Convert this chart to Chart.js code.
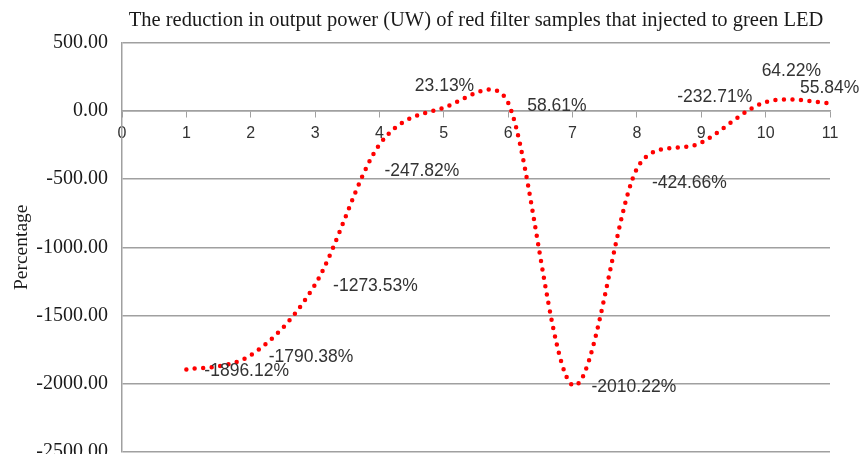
<!DOCTYPE html>
<html>
<head>
<meta charset="utf-8">
<script src="https://cdn.jsdelivr.net/npm/chart.js@4.4.1/dist/chart.umd.min.js"></script>
<style>
  body { margin: 0; background: #fff; }
</style>
</head>
<body>
<canvas id="chart" width="861" height="454"></canvas>
<script>
const sampleNumbers = [1, 2, 3, 4, 5, 6, 7, 8, 9, 10, 11];
const reductionValues = [-1896.12, -1790.38, -1273.53, -247.82, 23.13, 58.61, -2010.22, -424.66, -232.71, 64.22, 55.84];
const yTicks = [-2500, -2000, -1500, -1000, -500, 0, 500];
const xTicks = [0, 1, 2, 3, 4, 5, 6, 7, 8, 9, 10, 11];

// where each value label sits, relative to its point (left edge, vertical middle)
const labelOffsets = [[18, 2], [18, 2], [18, 2], [5, 27], [-29, -22], [19, 3], [19, 2], [15, 14], [-24, -45], [-4, -31], [-30, -15]];

// excel-like smoothing: tangent = (next - prev) / 6, capped at half of each neighbouring segment
const excelSmooth = {
    id: "excelSmooth",
    beforeDatasetsDraw(chart) {
        const meta = chart.getDatasetMeta(0);
        meta.dataset.updateControlPoints(chart.chartArea);
        const pts = meta.data;
        const dist = (a, b) => Math.hypot(b.x - a.x, b.y - a.y);
        pts.forEach((p, i) => {
            const prev = pts[Math.max(i - 1, 0)];
            const next = pts[Math.min(i + 1, pts.length - 1)];
            const vx = (next.x - prev.x) / 6;
            const vy = (next.y - prev.y) / 6;
            const len = Math.hypot(vx, vy) || 1;
            const k1 = Math.min(1, dist(prev, p) / 2 / len);
            const k2 = Math.min(1, dist(p, next) / 2 / len);
            p.cp1x = p.x - vx * k1;
            p.cp1y = p.y - vy * k1;
            p.cp2x = p.x + vx * k2;
            p.cp2y = p.y + vy * k2;
        });
    }
};

const valueLabels = {
    id: "valueLabels",
    afterDatasetsDraw(chart) {
        const ctx = chart.ctx;
        const meta = chart.getDatasetMeta(0);
        ctx.save();
        ctx.font = "17.5px 'Liberation Sans', Arial, sans-serif";
        ctx.fillStyle = "#333";
        ctx.textAlign = "left";
        ctx.textBaseline = "middle";
        meta.data.forEach((pt, i) => {
            const [dx, dy] = labelOffsets[i];
            ctx.fillText(reductionValues[i].toFixed(2) + "%", pt.x + dx, pt.y + dy);
        });
        ctx.restore();
    }
};

new Chart(document.getElementById("chart"), {
    type: "line",
    data: {
        datasets: [{
            data: sampleNumbers.map((x, i) => ({ x: x, y: reductionValues[i] })),
            borderColor: "#ff0000",
            borderWidth: 4.5,
            borderDash: [0, 8.5],
            borderCapStyle: "round",
            tension: 0.4,
            pointRadius: 0,
            fill: false
        }]
    },
    options: {
        responsive: false,
        animation: false,
        layout: { padding: { left: 0, right: 31, top: 0, bottom: 2 } },
        plugins: {
            legend: { display: false },
            tooltip: { enabled: false },
            title: {
                display: true,
                fullSize: false,
                text: "The reduction in output power (UW) of red filter samples that injected to green LED",
                color: "#1a1a1a",
                font: { family: "'Liberation Serif', 'Times New Roman', serif", size: 20.5, weight: "normal" },
                padding: { top: 8, bottom: 10 }
            }
        },
        scales: {
            x: {
                type: "linear",
                position: { y: 0 },
                min: 0,
                max: 11,
                afterFit: scale => { scale.height = 0; },
                afterBuildTicks: scale => { scale.ticks = xTicks.map(v => ({ value: v })); },
                grid: { drawOnChartArea: false, drawTicks: true, tickLength: 6, color: "#a0a0a0" },
                border: { color: "#a0a0a0", width: 1.5 },
                ticks: {
                    color: "#333",
                    padding: 7,
                    maxRotation: 0,
                    font: { family: "'Liberation Sans', Arial, sans-serif", size: 16 }
                }
            },
            y: {
                min: -2500,
                max: 500,
                afterFit: scale => {
                    scale.width = 122;
                    scale.paddingTop = 0;
                    scale.paddingBottom = 0;
                },
                afterBuildTicks: scale => { scale.ticks = yTicks.map(v => ({ value: v })); },
                grid: { color: "#a0a0a0", lineWidth: 1.5, drawTicks: false },
                border: { color: "#a0a0a0", width: 1.5 },
                ticks: {
                    color: "#1a1a1a",
                    padding: 14,
                    font: { family: "'Liberation Serif', 'Times New Roman', serif", size: 20 },
                    callback: v => v.toFixed(2)
                },
                title: {
                    display: true,
                    text: "Percentage",
                    color: "#1a1a1a",
                    font: { family: "'Liberation Serif', 'Times New Roman', serif", size: 19.5 },
                    padding: { top: 10, bottom: 0 }
                }
            }
        }
    },
    plugins: [excelSmooth, valueLabels]
});
</script>
</body>
</html>
